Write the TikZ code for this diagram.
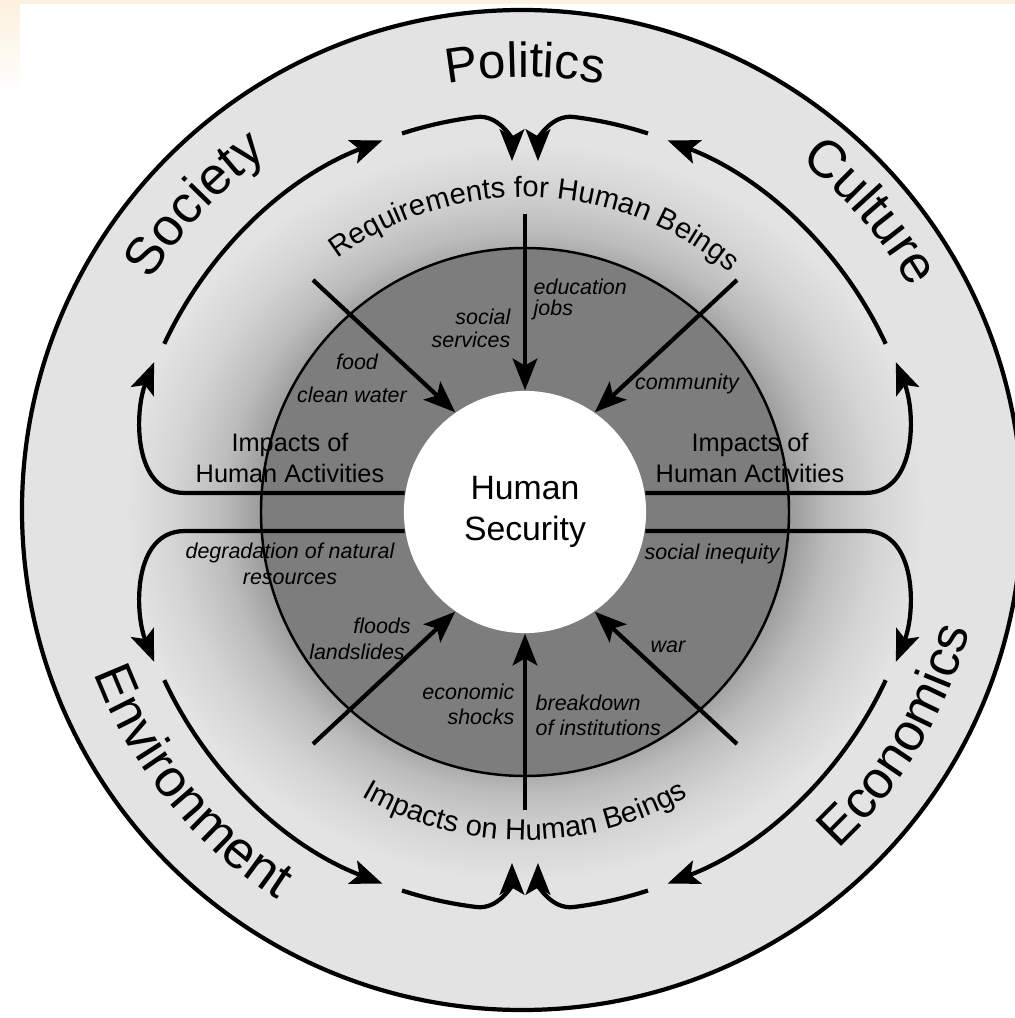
\documentclass[tikz,border=0pt]{standalone}
\usepackage{fontspec}
\setmainfont{Liberation Sans}
\usetikzlibrary{arrows.meta, decorations.text}
\definecolor{HSband}{RGB}{227,227,227}
\definecolor{HSdark}{RGB}{125,125,125}
\definecolor{HSmid}{RGB}{155,155,155}
\definecolor{HSlite}{RGB}{188,188,188}
\definecolor{HSpale}{RGB}{212,212,212}
\definecolor{HSpeach}{RGB}{252,241,222}
\pgfdeclareradialshading{hsglow}{\pgfpoint{0bp}{0bp}}{color(0bp)=(HSdark); color(16.5bp)=(HSmid); color(19bp)=(HSlite); color(22bp)=(HSpale); color(25bp)=(HSband); color(50bp)=(HSband)}
\newcommand\ringfont{\fontsize{15}{17}\selectfont}
\newcommand\topfont{\fontsize{14}{16}\selectfont}
\newcommand\archfont{\fontsize{8.3}{10}\selectfont}

\begin{document}
\begin{tikzpicture}[x=0.01cm, y=0.01cm,
    arr/.style={line width=1.2pt, -{Stealth[length=9pt, width=7pt, inset=2pt]}},
    ringtext/.style={decorate, decoration={text along path, text align=center,
                     text={|\ringfont|#1}}},
    archtext/.style={decorate, decoration={text along path, text align=center,
                     text={|\archfont|#1}}},
    note/.style={font=\fontsize{6.1}{7}\selectfont\itshape, inner sep=0pt},
    impact/.style={font=\fontsize{7.2}{8.8}\selectfont, align=center, inner sep=0pt}
  ]
  \useasboundingbox (-525,-506) rectangle (490,512);
  \clip (-525,-506) rectangle (490,512);
  \fill[HSpeach] (-525,508) rectangle (490,512);
  \shade[top color=HSpeach, bottom color=white] (-525,508) rectangle (-505,420);

  % rings
  \draw[line width=1.2pt, fill=HSband] (-3,2) circle[radius=500];
  \shade[shading=hsglow] (0,0) ellipse[x radius=400, y radius=370];
  \draw[line width=0.7pt, fill=HSdark] (0,0) circle[radius=264];

  \node[circle, fill=white, minimum size=2.42cm, inner sep=0pt, align=center,
        font=\fontsize{9.6}{11.7}\selectfont] (hs) at (0,0) {Human\\Security};

  % impacts of human activities
  \draw[arr] (hs.171) -- ++(-220,0) to[out=180, in=-112] (158:400);
  \draw[arr] (hs.189) -- ++(-220,0) to[out=180, in=112] (202:400);
  \draw[arr] (hs.9) -- ++(220,0) to[out=0, in=-68] (22:400);
  \draw[arr] (hs.-9) -- ++(220,0) to[out=0, in=68] (-22:400);

  % outer ring
  \draw[arr] (155:398) arc[start angle=155, end angle=111, radius=398];
  \draw[arr] (25:398) arc[start angle=25, end angle=69, radius=398];
  \draw[arr] (205:398) arc[start angle=205, end angle=249, radius=398];
  \draw[arr] (335:398) arc[start angle=335, end angle=291, radius=398];
  \draw[arr] (108:398) arc[start angle=108, end angle=97, radius=398] to[out=7, in=90] (-13,351);
  \draw[arr] (72:398) arc[start angle=72, end angle=83, radius=398] to[out=173, in=90] (13,351);
  \draw[arr] (252:398) arc[start angle=252, end angle=263, radius=398] to[out=-7, in=-90] (-13,-351);
  \draw[arr] (288:398) arc[start angle=288, end angle=277, radius=398] to[out=187, in=-90] (13,-351);

  % spokes
  \draw[arr] (0,298) -- (hs.north);
  \draw[arr] (0,-298) -- (hs.south);
  \draw[arr] (-212,232) -- (hs.125);
  \draw[arr] (212,232) -- (hs.55);
  \draw[arr] (-212,-232) -- (hs.-125);
  \draw[arr] (212,-232) -- (hs.-55);

  \path[decorate, decoration={text along path, text align=center, text={|\topfont|Politics}}]
        (110:435) arc[start angle=110, end angle=70, radius=435];
  \path[ringtext=Society] (160:440) arc[start angle=160, end angle=114, radius=440];
  \path[ringtext=Culture] (64:446) arc[start angle=64, end angle=18, radius=446];
  \path[ringtext=Environment] (188:460) arc[start angle=188, end angle=250, radius=460];
  \path[ringtext=Economics] (298:460) arc[start angle=298, end angle=360, radius=460];
  \path[archtext={Requirements for Human Beings}] (138:315) arc[start angle=138, end angle=38, radius=315];
  \path[archtext={Impacts on Human Beings}] (225:328) arc[start angle=225, end angle=315, radius=328];

  \node[impact] (actl) at (-235,54) {Impacts of\\Human Activities};
  \node[impact] (actr) at (225,54) {Impacts of\\Human Activities};

  \node[note, anchor=west] (edu) at (8,225) {education};
  \node[note, anchor=west] (jobs) at (8,202) {jobs};
  \node[note, anchor=east] (soc) at (-14,195) {social};
  \node[note, anchor=east] (serv) at (-14,172) {services};
  \node[note] (food) at (-168,150) {food};
  \node[note] (water) at (-173,117) {clean water};
  \node[note] (comm) at (162,128) {community};
  \node[note] (degr) at (-235,-41) {degradation of natural};
  \node[note] (res) at (-235,-67) {resources};
  \node[note] (ineq) at (187,-42) {social inequity};
  \node[note] (flood) at (-143,-114) {floods};
  \node[note] (slide) at (-168,-140) {landslides};
  \node[note] (war) at (143,-135) {war};
  \node[note, anchor=east] (econ) at (-10,-180) {economic};
  \node[note, anchor=east] (shock) at (-10,-205) {shocks};
  \node[note, anchor=west] (brk) at (10,-191) {breakdown};
  \node[note, anchor=west] (inst) at (10,-216) {of institutions};
\end{tikzpicture}
\end{document}
